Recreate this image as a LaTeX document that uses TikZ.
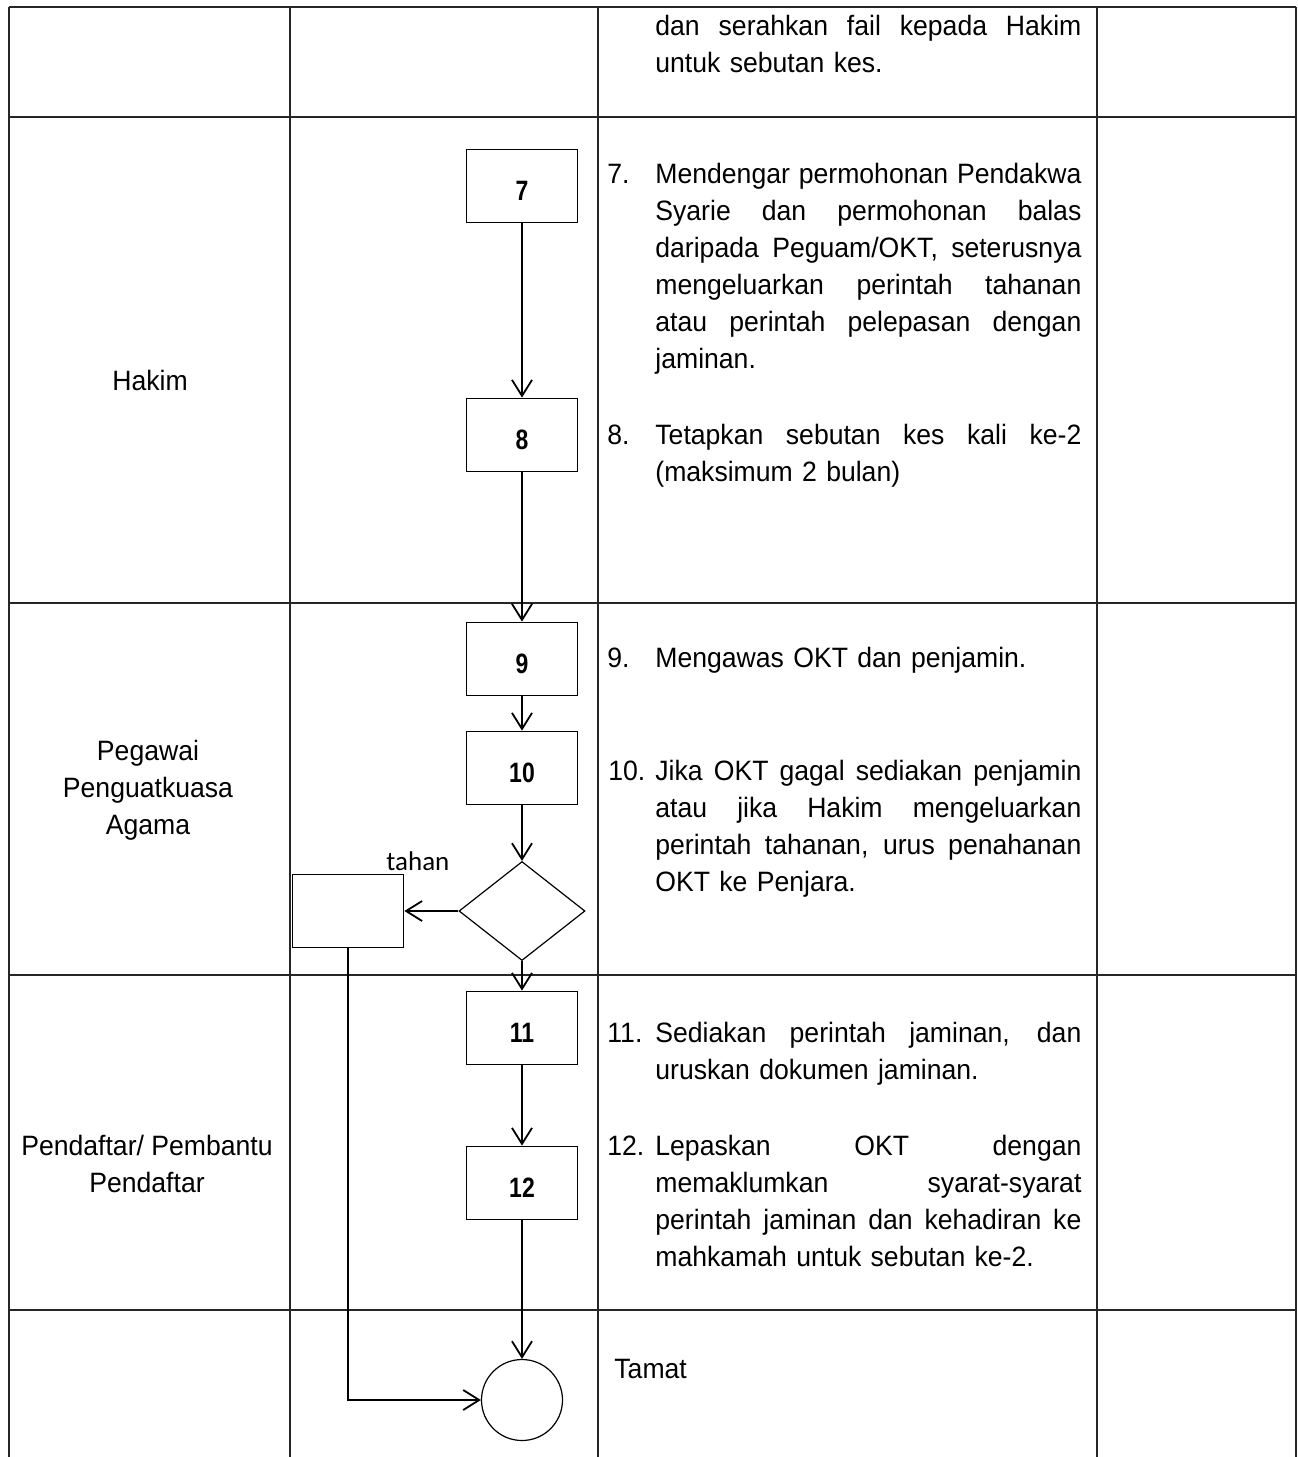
\documentclass[tikz,border=0pt]{standalone}
\usepackage{fontspec}
\setmainfont[FakeStretch=0.95]{Liberation Sans}
\newfontfamily\boxfont[FakeStretch=0.82]{Liberation Sans}
\newfontfamily\labelfont{Carlito}
\usetikzlibrary{%
    arrows.meta,
    positioning,
    shapes.geometric
}
\tikzset{headarrow/.style = {-{Straight Barb[length=8pt,width=10pt]}, line width=0.9pt}}
\tikzset{tableline/.style = {line width=0.8pt, black!85}}
\tikzset{stepbox/.style = {draw, line width=0.9pt, minimum width=55.5pt, minimum height=36.5pt,
                           text height=14pt, text depth=0pt,
                           font=\boxfont\bfseries\fontsize{14pt}{16pt}\selectfont}}
\tikzset{decision/.style = {draw, diamond, aspect=1.27, minimum width=63pt, minimum height=49.5pt,
                            inner sep=0pt, line width=0.6pt}}
\tikzset{desc/.style = {anchor=base west, inner sep=0pt, text width=213pt,
                        font=\fontsize{14pt}{18.5pt}\selectfont}}
\tikzset{num/.style = {anchor=base west, inner sep=0pt, font=\fontsize{14pt}{18.5pt}\selectfont}}
\tikzset{lane/.style = {align=center, font=\fontsize{14pt}{18.5pt}\selectfont}}
\newcommand{\justline}[1]{\hbox to \hsize{\spaceskip=0.3em plus 1fil\relax #1}\par}

\begin{document}
\begin{tikzpicture}[x=0.5pt, y=-0.5pt]
    \useasboundingbox (0,0) rectangle (1297,1457);

    % table
    \foreach \Row in {7,117,603,975,1310}
        \draw[tableline] (9,\Row) -- (1296,\Row);
    \foreach \Column in {9,290,598,1097,1296}
        \draw[tableline] (\Column,7) -- (\Column,1457);

    % lanes
    \node (hakim) [lane] at (150,380) {Hakim};
    \node (ppa) [lane] at (148,790) {Pegawai\\Penguatkuasa\\Agama};
    \node (daftar) [lane] at (147,1164) {Pendaftar/ Pembantu\\Pendaftar};

    % flow
    \node (s7) [stepbox] at (522,186) {7};
    \node (s8) [stepbox] at (522,435) {8};
    \node (s9) [stepbox] at (522,659) {9};
    \node (s10) [stepbox] at (522,768) {10};
    \node (d10) [decision] at (522,911) {};
    \node (tahan) [stepbox] at (348,911) {};
    \node (s11) [stepbox] at (522,1028) {11};
    \node (s12) [stepbox] at (522,1183) {12};
    \node (finish) [draw, circle, line width=0.6pt, minimum size=40.5pt] at (522,1400) {};

    \foreach \Source/\Target in {%
        s7/s8,
        s8/s9,
        s9/s10,
        s10/d10,
        d10/s11,
        s11/s12,
        s12/finish%
    }
        \draw[headarrow] (\Source) -- (\Target);
    \draw[headarrow] (d10) -- node (tahanlabel) [pos=.75, above=16.5pt,
        font=\labelfont\fontsize{13.5pt}{16pt}\selectfont] {tahan} (tahan);
    \draw[headarrow] (tahan.south) |- (finish.west);

    % steps
    \node (t6) [desc] at (655,35) {\justline{dan serahkan fail kepada Hakim}untuk sebutan kes.};

    \node (n7) [num] at (607,183) {7.};
    \node (t7) [desc] at (655,183) {%
        \justline{Mendengar permohonan Pendakwa}%
        \justline{Syarie dan permohonan balas}%
        \justline{daripada Peguam/OKT, seterusnya}%
        \justline{mengeluarkan perintah tahanan}%
        \justline{atau perintah pelepasan dengan}%
        jaminan.};

    \node (n8) [num] at (607,444) {8.};
    \node (t8) [desc] at (655,444) {\justline{Tetapkan sebutan kes kali ke-2}(maksimum 2 bulan)};

    \node (n9) [num] at (607,667) {9.};
    \node (t9) [desc] at (655,667) {Mengawas OKT dan penjamin.};

    \node (n10) [num] at (608,780) {10.};
    \node (t10) [desc] at (655,780) {%
        \justline{Jika OKT gagal sediakan penjamin}%
        \justline{atau jika Hakim mengeluarkan}%
        \justline{perintah tahanan, urus penahanan}%
        OKT ke Penjara.};

    \node (n11) [num] at (607,1042) {11.};
    \node (t11) [desc] at (655,1042) {\justline{Sediakan perintah jaminan, dan}uruskan dokumen jaminan.};

    \node (n12) [num] at (607,1155) {12.};
    \node (t12) [desc] at (655,1155) {%
        \justline{Lepaskan OKT dengan}%
        \justline{memaklumkan syarat-syarat}%
        \justline{perintah jaminan dan kehadiran ke}%
        mahkamah untuk sebutan ke-2.};

    \node (tamat) [num] at (614,1378) {Tamat};
\end{tikzpicture}
\end{document}
